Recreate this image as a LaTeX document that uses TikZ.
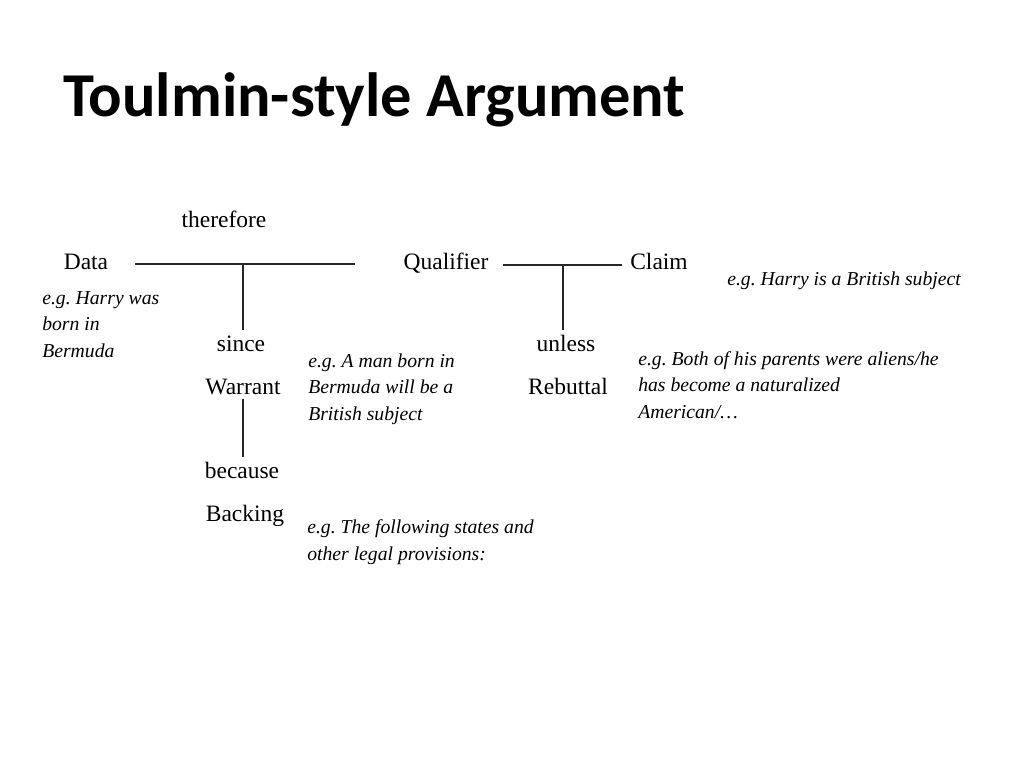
\documentclass[tikz,border=0pt]{standalone}
\usepackage{fontspec}
\setmainfont{Liberation Serif}
\newfontfamily\titlefont{Carlito}
\usetikzlibrary{positioning}

\begin{document}
\frenchspacing
\begin{tikzpicture}[x=0.025cm, y=-0.025cm,
    term/.style={anchor=base, font=\fontsize{16.7}{20}\selectfont},
    example/.style={anchor=base west, inner sep=0pt, align=left,
        font=\fontsize{14}{18.8}\selectfont\itshape},
    rule/.style={line width=1pt, black!85}]
    \useasboundingbox (0,0) rectangle (1024,768);

    % Titre
    \node[anchor=base west, inner sep=0pt, font=\titlefont\bfseries\fontsize{44.4}{50}\selectfont] (title) at (63,117) {Toulmin-style Argument};

    % Termes
    \foreach \name/\x/\y/\txt in {therefore/224/227/therefore, data/86/269/Data,
        qualifier/446/269/Qualifier, claim/659/269/Claim,
        since/241/351/since, warrant/243/394/Warrant,
        because/242/478/because, backing/245/521/Backing,
        unless/566/351/unless, rebuttal/568/394/Rebuttal} {
        \node[term] (\name) at (\x,\y) {\txt};
    }

    % Exemples (base = derniere ligne)
    \node[example] (exdata) at (42,357) {e.g. Harry was\\born in\\Bermuda};
    \node[example] (exclaim) at (727,285) {e.g. Harry is a British subject};
    \node[example] (exwarrant) at (308,420) {e.g. A man born in\\Bermuda will be a\\British subject};
    \node[example] (exrebuttal) at (638,418) {e.g. Both of his parents were aliens/he\\has become a naturalized\\American/\dots};
    \node[example] (exbacking) at (307,560) {e.g. The following states and\\other legal provisions:};

    % Traits
    \coordinate (thA) at (135,264);
    \coordinate (thB) at (355,264);
    \coordinate (thJ) at (243,264);
    \coordinate (quA) at (503,265);
    \coordinate (quB) at (622,265);
    \coordinate (quJ) at (563,265);
    \draw[rule] (thA) -- (thB);
    \draw[rule] (thJ) -- (thJ |- since.north);
    \draw[rule] (thJ |- warrant.south) -- (thJ |- because.north);
    \draw[rule] (quA) -- (quB);
    \draw[rule] (quJ) -- (quJ |- unless.north);
\end{tikzpicture}
\end{document}
